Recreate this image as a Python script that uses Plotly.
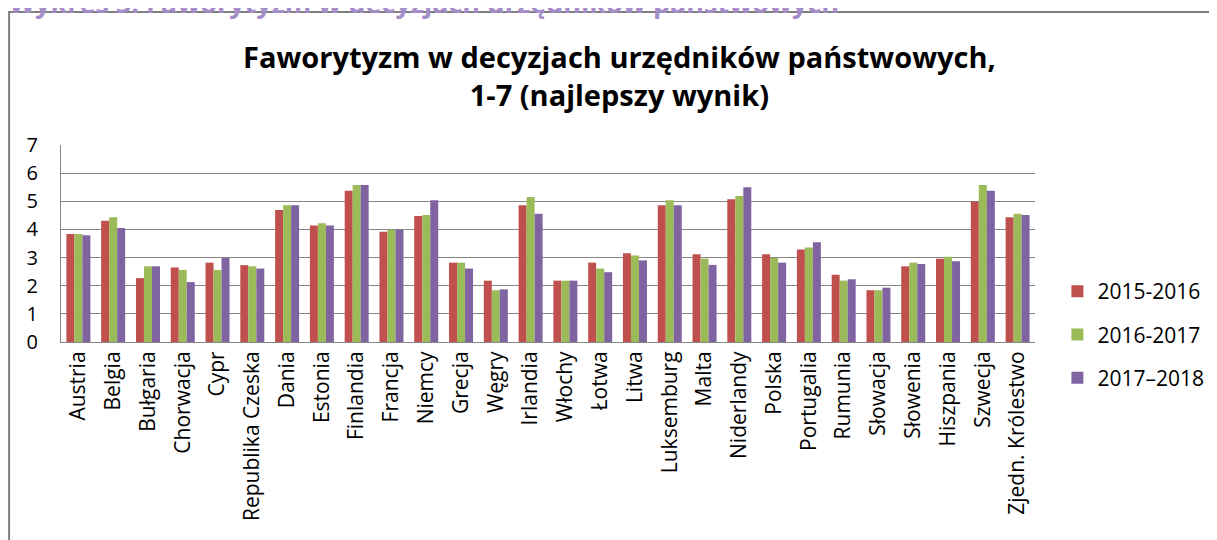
# Faworytyzm w decyzjach urzędników państwowych — grouped bars, 3 editions
import plotly.graph_objects as go

countries = [
    "Austria", "Belgia", "Bułgaria", "Chorwacja", "Cypr", "Republika Czeska",
    "Dania", "Estonia", "Finlandia", "Francja", "Niemcy", "Grecja", "Węgry",
    "Irlandia", "Włochy", "Łotwa", "Litwa", "Luksemburg", "Malta",
    "Niderlandy", "Polska", "Portugalia", "Rumunia", "Słowacja", "Słowenia",
    "Hiszpania", "Szwecja", "Zjedn. Królestwo",
]

val_2015_2016 = [3.84, 4.31, 2.27, 2.65, 2.82, 2.73, 4.69, 4.14, 5.37, 3.92,
                 4.48, 2.82, 2.18, 4.86, 2.18, 2.82, 3.15, 4.86, 3.12, 5.07,
                 3.12, 3.29, 2.39, 1.84, 2.69, 2.96, 4.99, 4.43]
val_2016_2017 = [3.84, 4.43, 2.69, 2.56, 2.56, 2.69, 4.86, 4.22, 5.58, 3.99,
                 4.51, 2.82, 1.84, 5.15, 2.18, 2.61, 3.07, 5.04, 2.96, 5.19,
                 2.99, 3.36, 2.18, 1.84, 2.82, 3.03, 5.58, 4.56]
val_2017_2018 = [3.79, 4.05, 2.69, 2.13, 2.99, 2.61, 4.86, 4.14, 5.58, 3.99,
                 5.04, 2.61, 1.87, 4.56, 2.18, 2.48, 2.90, 4.86, 2.74, 5.50,
                 2.82, 3.54, 2.23, 1.93, 2.77, 2.87, 5.37, 4.51]

series_names = ["2015-2016", "2016-2017", "2017–2018"]
series_colors = ["#C0504D", "#9BBB59", "#8064A2"]

FONT = "Open Sans"

fig = go.Figure()

for name, vals, col in zip(series_names,
                           [val_2015_2016, val_2016_2017, val_2017_2018],
                           series_colors):
    fig.add_trace(go.Bar(
        x=countries,
        y=vals,
        name=name,
        legendgroup=name,
        marker=dict(color=col, line=dict(width=0)),
    ))

# page body has an 8px margin, so the margins are pulled in by 8px
fig.update_layout(
    width=1217,
    height=540,
    paper_bgcolor="white",
    plot_bgcolor="white",
    font=dict(family=FONT, color="#000000"),
    barmode="group",
    bargap=0.31,
    bargroupgap=0,
    margin=dict(l=53, r=190, t=137, b=206, autoexpand=False),
    showlegend=True,
    legend=dict(
        x=1.023, y=0.36, xanchor="left", yanchor="top",
        font=dict(size=21, family=FONT),
        tracegroupgap=13,
        bgcolor="rgba(0,0,0,0)",
    ),
    xaxis=dict(
        tickangle=-90,
        tickfont=dict(size=21, family=FONT),
        showgrid=False,
        showline=True,
        linecolor="#868686",
        linewidth=1,
        ticks="",
        automargin=False,
    ),
    yaxis=dict(
        range=[0, 7],
        dtick=1,
        tickfont=dict(size=20, family=FONT),
        showgrid=True,
        gridcolor="#868686",
        gridwidth=1,
        showline=True,
        linecolor="#868686",
        linewidth=1,
        zeroline=False,
        ticklabelstandoff=18,
        automargin=False,
    ),
)

# outer frame of the embedded chart
fig.add_shape(type="rect", xref="paper", yref="paper",
              x0=-0.0533, x1=1.3, y0=-1.2, y1=1.675,
              line=dict(color="#7F7F7F", width=2), fillcolor="rgba(0,0,0,0)",
              layer="below")

# chart title
fig.add_annotation(
    xref="paper", yref="paper", x=0.573, y=1.56,
    xanchor="center", yanchor="top", showarrow=False,
    text="<b>Faworytyzm w decyzjach urzędników państwowych,<br>1-7 (najlepszy wynik)</b>",
    font=dict(size=29, family=FONT, color="#000000"),
    align="center",
)

# document caption, cut off by the top edge
fig.add_annotation(
    xref="paper", yref="paper", x=-0.055, y=1.62,
    xanchor="left", yanchor="bottom", showarrow=False,
    text="<b>Wykres 3. Faworytyzm w decyzjach urzędników państwowych</b>",
    font=dict(size=27, family=FONT, color="#A48DC8"),
)

fig.write_html("out.html")
